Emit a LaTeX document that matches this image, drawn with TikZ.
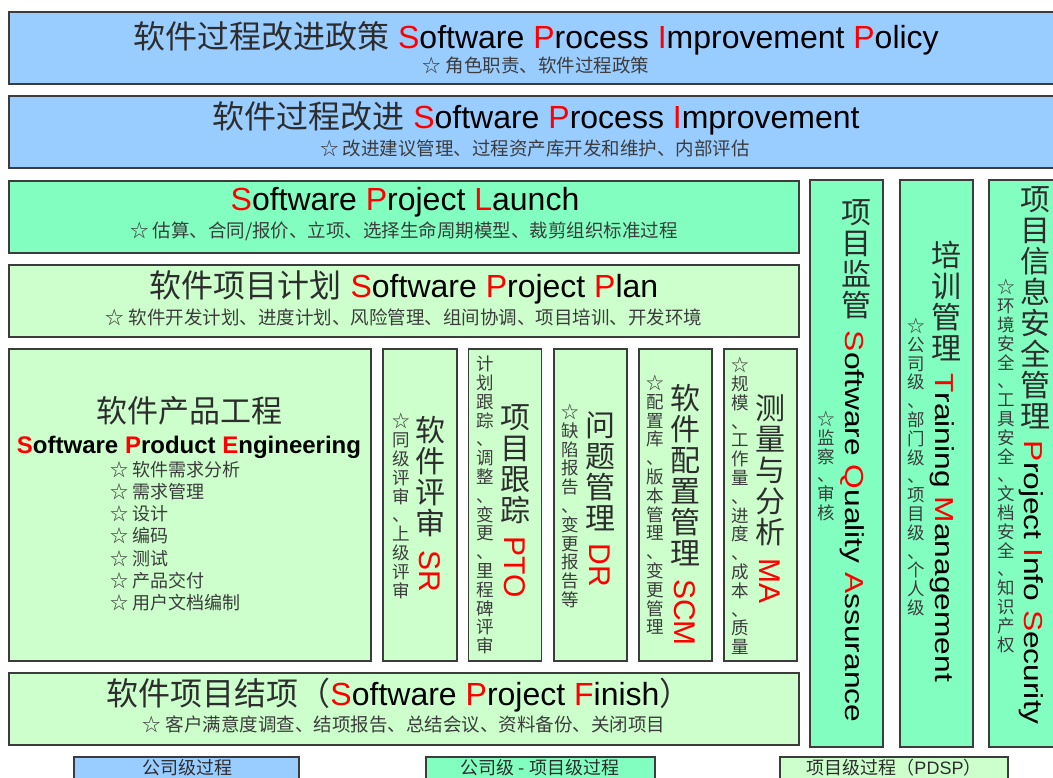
\documentclass[tikz,border=0pt]{standalone}
\usepackage{fontspec}
\usepackage{graphicx}
\setmainfont{Liberation Sans}
\newfontfamily\cjk{Noto Sans CJK SC}
\usetikzlibrary{calc}

\definecolor{procblue}{RGB}{153,204,255}
\definecolor{procgreen}{RGB}{130,255,192}
\definecolor{pdspgreen}{RGB}{204,255,204}
\definecolor{edgegray}{RGB}{60,60,60}
\definecolor{zhtitle}{RGB}{45,45,45}
\definecolor{subtext}{RGB}{60,60,60}

% red initial letter
\newcommand\R[1]{\textcolor{red}{#1}}
% Chinese part of a title line
\newcommand\Z[1]{{\cjk\color{zhtitle}#1}}
% stretched Latin text for the tall side columns
\newcommand\wide[1]{\scalebox{1.22}[1]{#1}}

\begin{document}
\begin{tikzpicture}[x=1pt,y=-1pt,
  panel/.style={draw=edgegray, line width=1.2pt, inner sep=0pt, outer sep=0pt},
  ttl/.style={inner sep=0pt, font=\fontsize{32}{32}\selectfont},
  subline/.style={inner sep=0pt, font=\cjk\fontsize{18.5}{18.5}\selectfont, text=subtext},
  vmain/.style={inner sep=0pt, anchor=north, align=center, font=\cjk\fontsize{30}{31}\selectfont, text=zhtitle},
  vsub/.style={inner sep=0pt, align=center, font=\cjk\fontsize{17.5}{18.8}\selectfont, text=subtext},
  vabbr/.style={inner sep=0pt, rotate=-90, anchor=base west, font=\fontsize{30}{30}\selectfont, text=red},
  vlat/.style={inner sep=0pt, rotate=-90, anchor=base west, font=\fontsize{26}{26}\selectfont},
  legendtxt/.style={inner sep=0pt, font=\cjk\fontsize{18}{18}\selectfont, text=zhtitle},
]
\useasboundingbox (0,0) rectangle (1053,778);
\clip (0,0) rectangle (1053,778);

% ---------- organisation-level bands ----------
\node[panel, fill=procblue, minimum width=1054, minimum height=72] (policy) at (536,48) {};
\node[ttl] (policy-t) at (536,38) {\Z{软件过程改进政策} \R{S}oftware \R{P}rocess \R{I}mprovement \R{P}olicy};
\node[subline] (policy-s) at (536,66) {☆ 角色职责、软件过程政策};

\node[panel, fill=procblue, minimum width=1054, minimum height=72] (spi) at (536,132) {};
\node[ttl] (spi-t) at (536,118) {\Z{软件过程改进} \R{S}oftware \R{P}rocess \R{I}mprovement};
\node[subline] (spi-s) at (535,148) {☆ 改进建议管理、过程资产库开发和维护、内部评估};

% ---------- project bands ----------
\node[panel, fill=procgreen, minimum width=790, minimum height=72] (launch) at (404,217) {};
\node[ttl] (launch-t) at (405,202) {\R{S}oftware \R{P}roject \R{L}aunch};
\node[subline] (launch-s) at (404,231) {☆ 估算、合同/报价、立项、选择生命周期模型、裁剪组织标准过程};

\node[panel, fill=pdspgreen, minimum width=790, minimum height=72] (plan) at (404,301) {};
\node[ttl] (plan-t) at (404,287) {\Z{软件项目计划} \R{S}oftware \R{P}roject \R{P}lan};
\node[subline] (plan-s) at (404,317) {☆ 软件开发计划、进度计划、风险管理、组间协调、项目培训、开发环境};

\node[panel, fill=pdspgreen, minimum width=790, minimum height=72] (finish) at (404,709) {};
\node[ttl] (finish-t) at (399,695) {\Z{软件项目结项（}\R{S}oftware \R{P}roject \R{F}inish\Z{）}};
\node[subline] (finish-s) at (404,724) {☆ 客户满意度调查、结项报告、总结会议、资料备份、关闭项目};

% ---------- product engineering ----------
\node[panel, fill=pdspgreen, minimum width=362, minimum height=312] (pe) at (190,505) {};
\node[inner sep=0pt, font=\cjk\fontsize{31}{31}\selectfont, text=zhtitle] (pe-zh) at (189,411) {软件产品工程};
\node[inner sep=0pt, font=\bfseries\fontsize{24}{24}\selectfont] (pe-en) at (189,447) {\R{S}oftware \R{P}roduct \R{E}ngineering};
\node[inner sep=0pt, anchor=north west, align=left, font=\cjk\fontsize{18}{22.2}\selectfont, text=subtext] (pe-list) at (110,461)
  {☆ 软件需求分析\\☆ 需求管理\\☆ 设计\\☆ 编码\\☆ 测试\\☆ 产品交付\\☆ 用户文档编制};

% ---------- project-level columns ----------
\node[panel, fill=pdspgreen, minimum width=74, minimum height=312] (sr) at (420,505) {};
\node[vmain] (sr-zh) at (430,416) {软\\件\\评\\审};
\node[vabbr] (sr-en) at ($(sr-zh.south)+(-11,13)$) {SR};
\node[vsub] (sr-sub) at (401,506) {☆\\同\\级\\评\\审\\、\\上\\级\\评\\审};

\node[panel, fill=pdspgreen, minimum width=73, minimum height=312] (pto) at (505,505) {};
\node[vmain] (pto-zh) at (515,404) {项\\目\\跟\\踪};
\node[vabbr] (pto-en) at ($(pto-zh.south)+(-11,13)$) {PTO};
\node[vsub] (pto-sub) at (485,505) {计\\划\\跟\\踪\\、\\调\\整\\、\\变\\更\\、\\里\\程\\碑\\评\\审};

\node[panel, fill=pdspgreen, minimum width=73, minimum height=312] (dr) at (590.5,505) {};
\node[vmain] (dr-zh) at (600,411) {问\\题\\管\\理};
\node[vabbr] (dr-en) at ($(dr-zh.south)+(-11,13)$) {DR};
\node[vsub] (dr-sub) at (570,506) {☆\\缺\\陷\\报\\告\\、\\变\\更\\报\\告\\等};

\node[panel, fill=pdspgreen, minimum width=73, minimum height=312] (scm) at (675.5,505) {};
\node[vmain] (scm-zh) at (685,384) {软\\件\\配\\置\\管\\理};
\node[vabbr] (scm-en) at ($(scm-zh.south)+(-11,13)$) {SCM};
\node[vsub] (scm-sub) at (655,505) {☆\\配\\置\\库\\、\\版\\本\\管\\理\\、\\变\\更\\管\\理};

\node[panel, fill=pdspgreen, minimum width=73, minimum height=312] (ma) at (760.5,505) {};
\node[vmain] (ma-zh) at (770,394) {测\\量\\与\\分\\析};
\node[vabbr] (ma-en) at ($(ma-zh.south)+(-11,13)$) {MA};
\node[vsub] (ma-sub) at (740,506) {☆\\规\\模\\、\\工\\作\\量\\、\\进\\度\\、\\成\\本\\、\\质\\量};

% ---------- full-height columns ----------
\node[panel, fill=procgreen, minimum width=73, minimum height=567] (qa) at (846.5,463.5) {};
\node[vmain] (qa-zh) at (856,199) {项\\目\\监\\管};
\node[vlat] (qa-en) at ($(qa-zh.south)+(-11,12)$) {\wide{\R{S}oftware \R{Q}uality \R{A}ssurance}};
\node[vsub] (qa-sub) at (826,466) {☆\\监\\察\\、\\审\\核};

\node[panel, fill=procgreen, minimum width=73, minimum height=567] (train) at (936.5,463.5) {};
\node[vmain] (train-zh) at (946,241) {培\\训\\管\\理};
\node[vlat] (train-en) at ($(train-zh.south)+(-11,12)$) {\wide{\R{T}raining \R{M}anagement}};
\node[vsub] (train-sub) at (916,467) {☆\\公\\司\\级\\、\\部\\门\\级\\、\\项\\目\\级\\、\\个\\人\\级};

\node[panel, fill=procgreen, minimum width=73, minimum height=567] (sec) at (1025.5,463.5) {};
\node[vmain] (sec-zh) at (1035,186) {项\\目\\信\\息\\安\\全\\管\\理};
\node[vlat] (sec-en) at ($(sec-zh.south)+(-11,12)$) {\wide{\R{P}roject \R{I}nfo \R{S}ecurity}};
\node[vsub] (sec-sub) at (1006,466) {☆\\环\\境\\安\\全\\、\\工\\具\\安\\全\\、\\文\\档\\安\\全\\、\\知\\识\\产\\权};

% ---------- legend ----------
\node[panel, fill=procblue, minimum width=225, minimum height=40] (leg-org) at (186.5,777) {};
\node[legendtxt] (leg-org-t) at (187,768) {公司级过程};
\node[panel, fill=procgreen, minimum width=229, minimum height=40] (leg-mix) at (540.5,777) {};
\node[legendtxt] (leg-mix-t) at (540,768) {公司级 - 项目级过程};
\node[panel, fill=pdspgreen, minimum width=228, minimum height=40] (leg-pdsp) at (894,777) {};
\node[legendtxt] (leg-pdsp-t) at (894,768) {项目级过程（\fontspec{Liberation Sans}PDSP\cjk）};
\end{tikzpicture}
\end{document}
